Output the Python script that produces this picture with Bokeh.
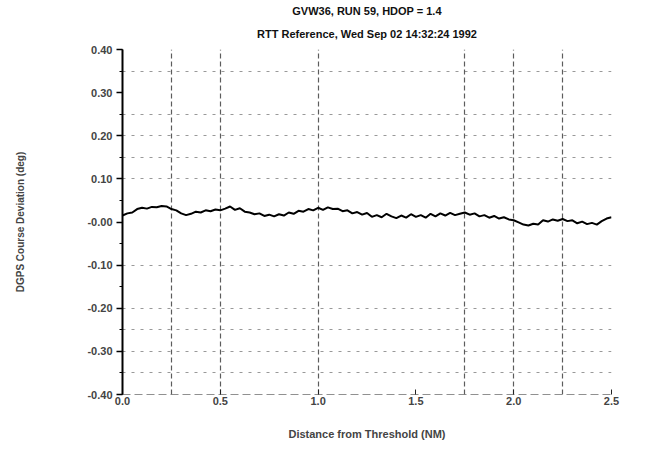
from bokeh.plotting import figure
from bokeh.models import Range1d, FixedTicker, Title, Span
from bokeh.embed import file_html
from bokeh.resources import INLINE

# ---- data ----
distance_nm = [i * 0.025 for i in range(101)]
deviation_deg = [
    0.015, 0.020, 0.022, 0.030, 0.033, 0.031, 0.035, 0.034, 0.037, 0.036,
    0.030, 0.027, 0.020, 0.016, 0.019, 0.024, 0.022, 0.027, 0.025, 0.029,
    0.027, 0.031, 0.036, 0.028, 0.032, 0.024, 0.022, 0.018, 0.020, 0.014,
    0.017, 0.013, 0.018, 0.015, 0.022, 0.019, 0.026, 0.024, 0.030, 0.027,
    0.033, 0.028, 0.034, 0.030, 0.031, 0.025, 0.027, 0.020, 0.023, 0.017,
    0.021, 0.012, 0.016, 0.011, 0.019, 0.013, 0.009, 0.015, 0.010, 0.018,
    0.012, 0.016, 0.010, 0.019, 0.013, 0.020, 0.015, 0.021, 0.016, 0.019,
    0.022, 0.017, 0.020, 0.013, 0.016, 0.010, 0.014, 0.008, 0.011, 0.006,
    0.004, -0.001, -0.006, -0.008, -0.004, -0.006, 0.004, 0.001, 0.006, 0.003,
    0.007, 0.002, 0.004, -0.003, 0.001, -0.005, -0.002, -0.006, 0.002, 0.008,
    0.011,
]
x_ticks = [0.0, 0.5, 1.0, 1.5, 2.0, 2.5]
x_tick_labels = ["0.0", "0.5", "1.0", "1.5", "2.0", "2.5"]
y_ticks = [-0.4, -0.3, -0.2, -0.1, 0.0, 0.1, 0.2, 0.3, 0.4]
y_tick_labels = ["-0.40", "-0.30", "-0.20", "-0.10", "-0.00", "0.10", "0.20", "0.30", "0.40"]
x_grid_at = [0.25, 0.5, 1.0, 1.75, 2.0, 2.25]
y_grid_at = [0.35, 0.25, 0.20, 0.15, 0.10, -0.10, -0.20, -0.25, -0.30, -0.35]

FONT = "Liberation Sans"

p = figure(width=647, height=446, output_backend="svg", toolbar_location=None,
           x_range=Range1d(0, 2.5), y_range=Range1d(-0.4, 0.4),
           min_border_left=122, min_border_right=36, min_border_top=49, min_border_bottom=52)
p.title = None
p.outline_line_color = None
p.background_fill_color = "white"

t2 = Title(text="RTT Reference, Wed Sep 02 14:32:24 1992", align="center",
           text_font=FONT, text_font_size="11px", text_font_style="bold",
           standoff=19, text_color="#111111")
t1 = Title(text="GVW36, RUN 59, HDOP = 1.4", align="center",
           text_font=FONT, text_font_size="11px", text_font_style="bold",
           standoff=0, text_color="#111111")
p.add_layout(t2, "above")
p.add_layout(t1, "above")

# grids
p.xgrid.ticker = FixedTicker(ticks=x_grid_at)
p.xgrid.grid_line_color = "#333333"
p.xgrid.grid_line_dash = "5 3"
p.xgrid.grid_line_alpha = 0.8
p.xgrid.grid_line_width = 1.2
p.ygrid.ticker = FixedTicker(ticks=y_grid_at)
p.ygrid.grid_line_color = "#555555"
p.ygrid.grid_line_dash = "3 6"
p.ygrid.grid_line_alpha = 0.6
p.ygrid.grid_line_width = 1

p.add_layout(Span(location=-0.4, dimension="width", line_color="#222222",
                  line_dash="8 4", line_width=1.2))

# axes
xa = p.xaxis[0]
xa.ticker = FixedTicker(ticks=x_ticks)
xa.major_label_overrides = {t: l for t, l in zip(x_ticks, x_tick_labels)}
xa.axis_line_color = None
xa.major_tick_in = 5
xa.major_tick_out = 0
xa.minor_tick_line_color = None
xa.major_tick_line_color = "#222222"
xa.major_label_text_font = FONT
xa.major_label_text_font_size = "11px"
xa.major_label_text_font_style = "bold"
xa.major_label_standoff = 2
xa.axis_label = "Distance from Threshold (NM)"
xa.axis_label_text_font = FONT
xa.axis_label_text_font_size = "11px"
xa.axis_label_text_font_style = "bold"
xa.axis_label_standoff = 20

ya = p.yaxis[0]
ya.ticker = FixedTicker(ticks=y_ticks, minor_ticks=[v / 100 for v in range(-40, 41, 5)])
ya.major_label_overrides = {t: l for t, l in zip(y_ticks, y_tick_labels)}
ya.axis_line_color = "black"
ya.axis_line_width = 2
ya.major_tick_out = 6
ya.major_tick_in = 0
ya.major_tick_line_width = 1.5
ya.minor_tick_out = 3
ya.minor_tick_in = 0
ya.major_label_text_font = FONT
ya.major_label_text_font_size = "11px"
ya.major_label_text_font_style = "bold"
ya.major_label_standoff = 4
ya.axis_label = "DGPS Course Deviation (deg)"
ya.axis_label_text_font = FONT
ya.axis_label_text_font_size = "10px"
ya.axis_label_text_font_style = "bold"
ya.axis_label_standoff = 58

p.line(distance_nm, deviation_deg, line_color="black", line_width=2)

open("out.html", "w").write(file_html(p, INLINE))
